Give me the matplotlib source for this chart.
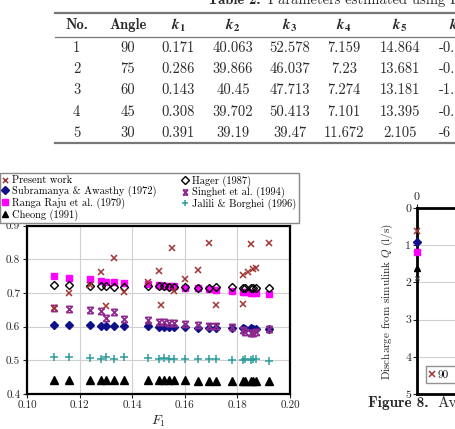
import matplotlib.pyplot as plt
from matplotlib.path import Path
from matplotlib.lines import Line2D

plt.rcParams['font.family'] = 'cmr10'
plt.rcParams['mathtext.fontset'] = 'cm'
plt.rcParams['axes.unicode_minus'] = False
plt.rcParams['axes.formatter.use_mathtext'] = True

W, H = 455, 429

# ---- table 2 values (as printed) ----
tab_no = ['1', '2', '3', '4', '5']
tab_angle = ['90', '75', '60', '45', '30']
tab_k1 = ['0.171', '0.286', '0.143', '0.308', '0.391']
tab_k2 = ['40.063', '39.866', '40.45', '39.702', '39.19']
tab_k3 = ['52.578', '46.037', '47.713', '50.413', '39.47']
tab_k4 = ['7.159', '7.23', '7.274', '7.101', '11.672']
tab_k5 = ['14.864', '13.681', '13.181', '13.395', '2.105']
tab_k6 = ['-0.', '-0.', '-1.', '-0.', '-6']

# ---- left figure: discharge coefficient vs F1 ----
F1 = [0.110, 0.116, 0.124, 0.128, 0.130, 0.133, 0.137, 0.146, 0.150, 0.152,
      0.154, 0.156, 0.160, 0.165, 0.169, 0.172, 0.178, 0.182, 0.183, 0.185,
      0.186, 0.187, 0.192]
cheong = [0.443, 0.443, 0.442, 0.442, 0.441, 0.441, 0.441, 0.441, 0.441, 0.441,
          0.441, 0.441, 0.441, 0.440, 0.440, 0.439, 0.439, 0.439, 0.439, 0.439,
          0.439, 0.439, 0.438]
jalili = [0.509, 0.509, 0.506, 0.503, 0.511, 0.503, 0.511, 0.508, 0.505, 0.507,
          0.505, 0.505, 0.505, 0.503, 0.503, 0.503, 0.500, 0.501, 0.503, 0.502,
          0.505, 0.503, 0.497]
subramanya = [0.605, 0.605, 0.604, 0.601, 0.601, 0.601, 0.601, 0.602, 0.599, 0.599,
              0.599, 0.599, 0.598, 0.597, 0.596, 0.596, 0.596, 0.595, 0.594, 0.595,
              0.593, 0.594, 0.593]
singhet = [0.654, 0.652, 0.649, 0.645, 0.627, 0.642, 0.622, 0.619, 0.615, 0.613,
           0.612, 0.610, 0.608, 0.605, 0.603, 0.603, 0.598, 0.590, 0.585, 0.582,
           0.580, 0.583, 0.593]
hager = [0.723, 0.723, 0.722, 0.720, 0.720, 0.719, 0.718, 0.722, 0.720, 0.720,
         0.719, 0.719, 0.718, 0.716, 0.716, 0.717, 0.718, 0.716, 0.716, 0.716,
         0.716, 0.716, 0.714]
ranga = [0.749, 0.744, 0.740, 0.735, 0.734, 0.732, 0.730, 0.727, 0.723, 0.722,
         0.721, 0.720, 0.716, 0.714, 0.712, 0.710, 0.707, 0.703, 0.702, 0.701,
         0.701, 0.700, 0.697]
F1_present = [0.110, 0.116, 0.124, 0.128, 0.130, 0.133, 0.137, 0.146, 0.150, 0.151,
              0.155, 0.156, 0.160, 0.165, 0.169, 0.172, 0.182, 0.182, 0.184, 0.185,
              0.186, 0.187, 0.192]
present = [0.656, 0.699, 0.725, 0.763, 0.660, 0.805, 0.704, 0.734, 0.766, 0.663,
           0.834, 0.706, 0.742, 0.768, 0.849, 0.665, 0.752, 0.668, 0.762, 0.844,
           0.770, 0.774, 0.848]

# ---- right figure (only its left edge is in view) ----
angles = ['90', '75', '60', '45', '30']
q_sim = [0.61, 0.92, 1.19, 1.62, 1.87]


def fx(x):
    return x / W


def fy(y):
    return 1 - y / H


# hourglass marker used for Singhet et al.
hourglass = Path([(-1, 1), (1, -1), (-1, -1), (1, 1), (-1, 1), (1, 1), (-1, -1), (1, -1)],
                 [Path.MOVETO, Path.LINETO, Path.MOVETO, Path.LINETO,
                  Path.MOVETO, Path.LINETO, Path.MOVETO, Path.LINETO])

fig = plt.figure(figsize=(W / 100, H / 100), dpi=100)

# ---------------- table ----------------
tc = '#2a2a2a'
fig.text(fx(208), fy(4), 'Table 2.', fontfamily='cmb10', fontsize=10.5, color=tc,
         ha='left', va='baseline')
fig.text(fx(268), fy(4), 'Parameters estimated using Eq', fontsize=10.5, color=tc,
         ha='left', va='baseline')
for yy, lw in [(13.3, 1.6), (37.3, 0.9), (142.7, 1.6)]:
    fig.add_artist(Line2D([fx(55), 1.0], [fy(yy), fy(yy)], transform=fig.transFigure,
                          color='#777777', lw=lw))
col_x = [76.7, 127.7, 178, 233, 290, 344, 400]
headers = ['No.', 'Angle']
for x, h in zip(col_x[:2], headers):
    fig.text(fx(x), fy(25), h, fontfamily='cmb10', fontsize=10.5, color=tc,
             ha='center', va='center')
for i, x in enumerate(col_x[2:] + [457]):
    fig.text(fx(x), fy(25), r'$\boldsymbol{k}_{\mathbf{%d}}$' % (i + 1), fontsize=11,
             color=tc, ha='center', va='center', math_fontfamily='stix')
row_y = [47.7, 69, 90, 111.7, 132.7]
columns = [tab_no, tab_angle, tab_k1, tab_k2, tab_k3, tab_k4, tab_k5]
for x, col in zip(col_x, columns):
    for y, v in zip(row_y, col):
        fig.text(fx(x), fy(y), v, fontsize=10.5, color=tc, ha='center', va='center')
for y, v in zip(row_y, tab_k6):
    fig.text(fx(439), fy(y), v, fontsize=10.5, color=tc, ha='left', va='center')

# ---------------- left chart ----------------
ax = fig.add_axes([fx(27.3), fy(394), fx(290) - fx(27.3), fy(225.6) - fy(394)])
ax.plot(F1, ranga, 's', color='#ff00ff', ms=5, mec='#ff00ff', zorder=3,
        label='Ranga Raju et al. (1979)')
ax.plot(F1, hager, 'D', ms=4.5, mfc='none', mec='black', mew=1.0, zorder=4,
        label='Hager (1987)')
ax.plot(F1, subramanya, 'D', color='#10108a', ms=4.5, zorder=3,
        label='Subramanya & Awasthy (1972)')
ax.plot(F1, singhet, ls='none', marker=hourglass, ms=4.5, mec='#8e2a8e', mfc='none',
        mew=1.2, zorder=4, label='Singhet et al. (1994)')
ax.plot(F1, jalili, '+', color='#2f9c9c', ms=5.5, mew=1.1, zorder=3,
        label='Jalili & Borghei (1996)')
ax.plot(F1, cheong, '^', color='black', ms=5.5, zorder=3, label='Cheong (1991)')
ax.plot(F1_present, present, 'x', color='#a33333', ms=4.5, mew=1.1, zorder=5,
        label='Present work')

ax.set_xlim(0.10, 0.20)
ax.set_ylim(0.4, 0.9)
ax.set_xticks([0.10, 0.12, 0.14, 0.16, 0.18, 0.20])
ax.set_xticklabels(['0.10', '0.12', '0.14', '0.16', '0.18', '0.20'])
ax.set_yticks([0.4, 0.5, 0.6, 0.7, 0.8, 0.9])
ax.set_yticklabels(['0.4', '0.5', '0.6', '0.7', '0.8', '0.9'])
ax.grid(True, color='#d0d0d0', lw=0.8)
ax.set_axisbelow(True)
for s in ax.spines.values():
    s.set_linewidth(1.6)
ax.tick_params(labelsize=8, length=3, width=0.8, colors='#222222', pad=2)
ax.set_xlabel('$F_1$', fontsize=10, labelpad=2, color='#222222')

h, l = ax.get_legend_handles_labels()
order = ['Present work', 'Subramanya & Awasthy (1972)', 'Ranga Raju et al. (1979)',
         'Cheong (1991)', 'Hager (1987)', 'Singhet et al. (1994)', 'Jalili & Borghei (1996)']
hd = dict(zip(l, h))
fig.legend([hd[k] for k in order], order, ncol=2, loc='upper left',
           bbox_to_anchor=(fx(0), fy(172.7)), fontsize=7.5, frameon=True,
           fancybox=False, edgecolor='#888888', framealpha=1, borderaxespad=0,
           handlelength=0.5, handletextpad=0.4, columnspacing=2.5,
           labelspacing=0.05, borderpad=0.25, markerscale=0.8)

# ---------------- right chart (cut at the page edge) ----------------
ax2 = fig.add_axes([fx(416.7), fy(394), fx(300), fy(208) - fy(394)])
styles = [dict(marker='x', color='#a33333', ms=4, mew=1.1),
          dict(marker='D', color='#10108a', ms=4),
          dict(marker='s', color='#ff00ff', ms=5),
          dict(marker='^', color='black', ms=5),
          dict(marker='x', color='#333333', ms=3.5, mew=1.0)]
for a, q, st in zip(angles, q_sim, styles):
    ax2.plot([0], [q], ls='none', clip_on=False, zorder=5, label=a, **st)
ax2.set_ylim(5, 0)
ax2.set_xlim(0, 5)
ax2.xaxis.tick_top()
ax2.set_xticks([0])
ax2.set_xticklabels(['0'])
ax2.set_yticks([0, 1, 2, 3, 4, 5])
ax2.set_yticklabels(['0', '1', '2', '3', '4', '5'])
ax2.grid(True, axis='y', color='#d0d0d0', lw=0.8)
for s in ax2.spines.values():
    s.set_linewidth(2.0)
ax2.tick_params(labelsize=8.5, length=3, width=0.8, colors='#222222', pad=1)
ax2.set_ylabel('Discharge from simulink $Q$ (l/s)', fontsize=8, labelpad=7,
               color='#222222')
ax2.legend(ncol=5, loc='lower left', bbox_to_anchor=(0.03, 0.06), fontsize=8,
           frameon=True, fancybox=False, edgecolor='#777777', handlelength=0.5,
           handletextpad=0.3, borderpad=0.3, borderaxespad=0)

fig.text(fx(368), fy(403), 'Figure 8.', fontfamily='cmb10', fontsize=11, color=tc,
         ha='left', va='center')
fig.text(fx(437), fy(403), 'Av', fontsize=11, color=tc, ha='left', va='center')

fig.savefig('out.png', dpi=100)
plt.close(fig)
